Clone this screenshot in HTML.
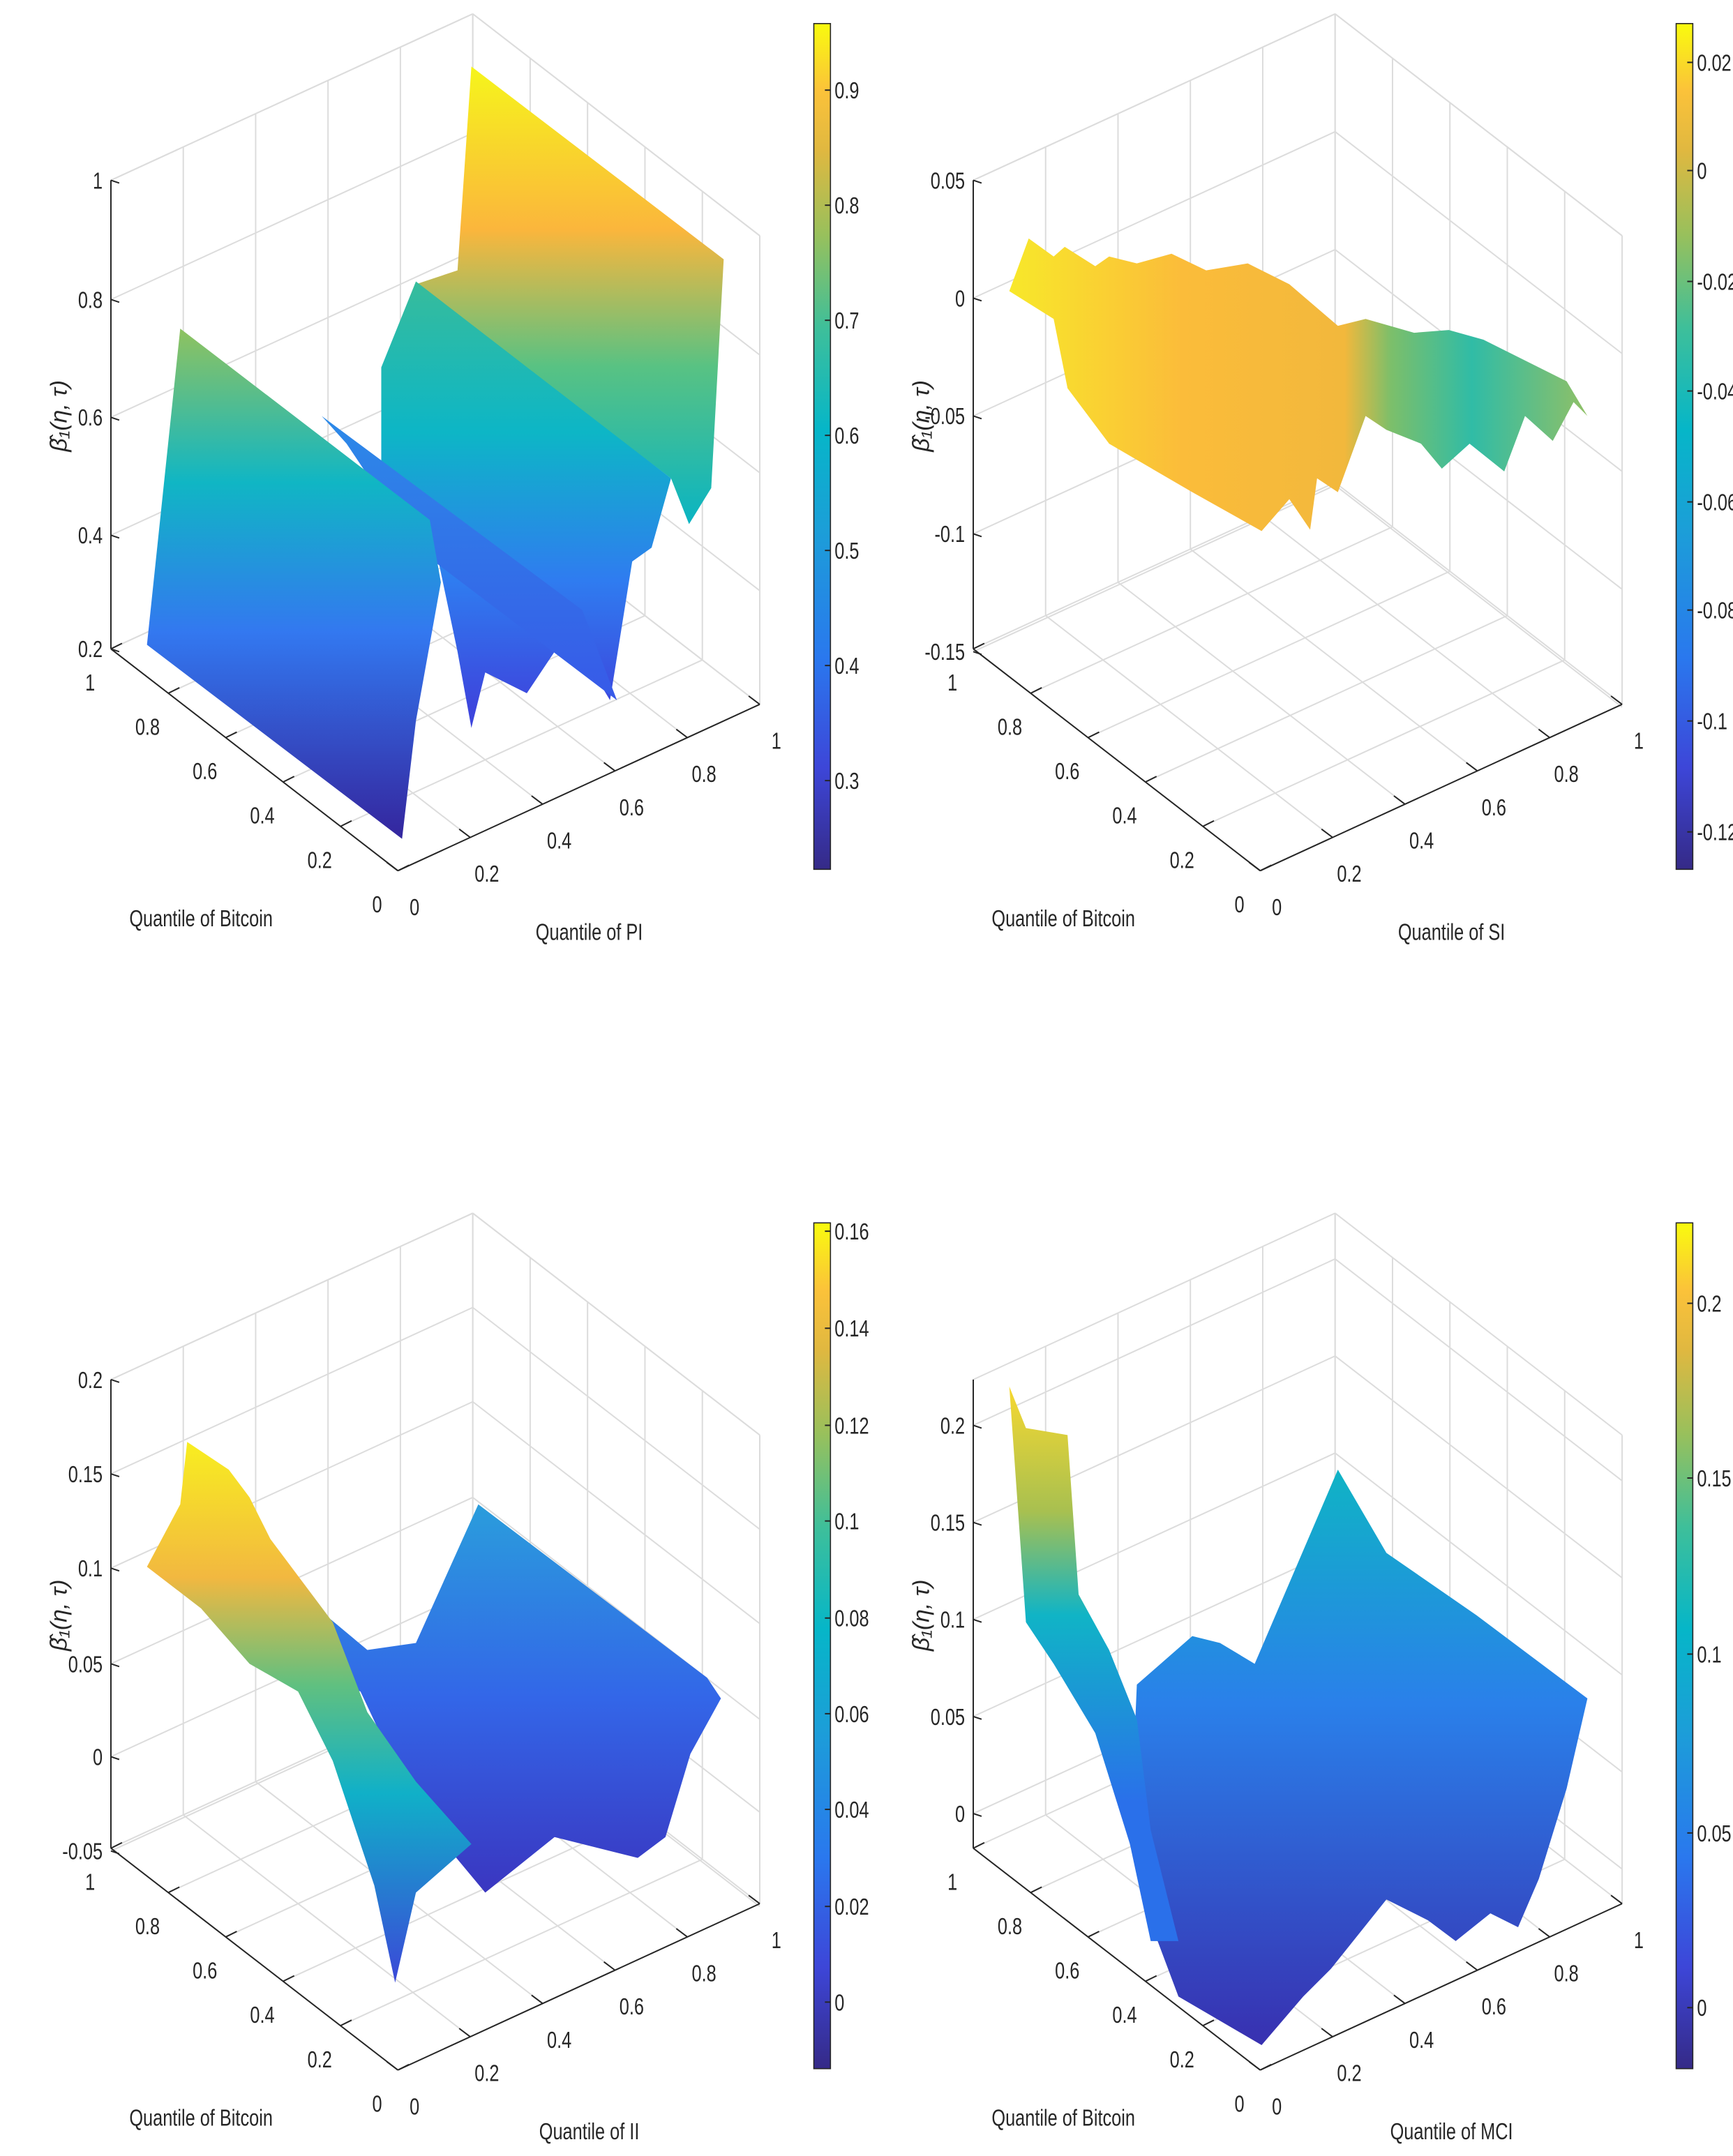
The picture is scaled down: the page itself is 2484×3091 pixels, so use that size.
<!DOCTYPE html>
<html><head><meta charset="utf-8"><style>
html,body{margin:0;padding:0;background:#fff;width:2484px;height:3091px;overflow:hidden}
svg{display:block}
text{font-family:"Liberation Sans",sans-serif;font-size:17px;fill:#262626}
</style></head><body>
<svg id="s" width="2484" height="3091" viewBox="0 0 1250 1555" preserveAspectRatio="none" xmlns="http://www.w3.org/2000/svg">
<defs>
<linearGradient id="cb" x1="0" y1="1" x2="0" y2="0">
<stop offset="0" stop-color="#352a87"/><stop offset="0.12" stop-color="#3d46d8"/><stop offset="0.25" stop-color="#2a78ee"/>
<stop offset="0.4" stop-color="#1c9ed8"/><stop offset="0.52" stop-color="#06b6c8"/><stop offset="0.64" stop-color="#3ebf9a"/>
<stop offset="0.75" stop-color="#98c05c"/><stop offset="0.85" stop-color="#e0b840"/><stop offset="0.92" stop-color="#fbc23a"/>
<stop offset="1" stop-color="#f9fb0e"/></linearGradient>
<linearGradient id="g1a" gradientUnits="userSpaceOnUse" x1="0" y1="50" x2="0" y2="380"><stop offset="0" stop-color="#f6f41c"/><stop offset="0.35" stop-color="#fbb63c"/><stop offset="0.65" stop-color="#58c283"/><stop offset="1" stop-color="#08b4c4"/></linearGradient>
<linearGradient id="g1b" gradientUnits="userSpaceOnUse" x1="0" y1="205" x2="0" y2="510"><stop offset="0" stop-color="#36bc9c"/><stop offset="0.35" stop-color="#0db6c6"/><stop offset="0.7" stop-color="#2f7cf0"/><stop offset="1" stop-color="#3d46dd"/></linearGradient>
<linearGradient id="g1c" gradientUnits="userSpaceOnUse" x1="0" y1="300" x2="0" y2="510"><stop offset="0" stop-color="#2c8ae8"/><stop offset="1" stop-color="#3858e8"/></linearGradient>
<linearGradient id="g1d" gradientUnits="userSpaceOnUse" x1="0" y1="240" x2="0" y2="600"><stop offset="0" stop-color="#8cc262"/><stop offset="0.3" stop-color="#10b6c4"/><stop offset="0.6" stop-color="#3378f0"/><stop offset="1" stop-color="#3428a0"/></linearGradient>
<linearGradient id="g2" gradientUnits="userSpaceOnUse" x1="728" y1="0" x2="1145" y2="0"><stop offset="0" stop-color="#f8e82a"/><stop offset="0.3" stop-color="#fbbc3a"/><stop offset="0.58" stop-color="#f2b83c"/><stop offset="0.66" stop-color="#7cbf6a"/><stop offset="0.8" stop-color="#30bca6"/><stop offset="1" stop-color="#90c066"/></linearGradient>
<linearGradient id="g3a" gradientUnits="userSpaceOnUse" x1="0" y1="1085" x2="0" y2="1365"><stop offset="0" stop-color="#2a9ddc"/><stop offset="0.5" stop-color="#3366e8"/><stop offset="1" stop-color="#3a36c0"/></linearGradient>
<linearGradient id="g3b" gradientUnits="userSpaceOnUse" x1="0" y1="1040" x2="0" y2="1430"><stop offset="0" stop-color="#f8ee20"/><stop offset="0.25" stop-color="#f2b840"/><stop offset="0.45" stop-color="#60c080"/><stop offset="0.65" stop-color="#10b0c8"/><stop offset="1" stop-color="#3b48d8"/></linearGradient>
<linearGradient id="g4a" gradientUnits="userSpaceOnUse" x1="0" y1="1065" x2="0" y2="1475"><stop offset="0" stop-color="#10b2c6"/><stop offset="0.4" stop-color="#2a80ea"/><stop offset="1" stop-color="#3830b0"/></linearGradient>
<linearGradient id="g4b" gradientUnits="userSpaceOnUse" x1="0" y1="1000" x2="0" y2="1300"><stop offset="0" stop-color="#f7d830"/><stop offset="0.3" stop-color="#a8c050"/><stop offset="0.55" stop-color="#10b4c6"/><stop offset="1" stop-color="#2a70ea"/></linearGradient>
</defs>
<g id="root"></g>
</svg>
<script>
var NS="http://www.w3.org/2000/svg",root=document.getElementById("root");
function el(t,a,txt){var e=document.createElementNS(NS,t);for(var k in a)e.setAttribute(k,a[k]);if(txt!==undefined)e.textContent=txt;root.appendChild(e);return e;}
function line(x1,y1,x2,y2,c,w){el("line",{x1:x1,y1:y1,x2:x2,y2:y2,stroke:c,"stroke-width":w||1});}
function txt(x,y,s,anchor,extra){var a={x:x,y:y,"text-anchor":anchor||"middle",transform:"translate("+x+","+y+") scale(0.75,1) translate("+(-x)+","+(-y)+")"};if(extra)for(var k in extra)a[k]=extra[k];el("text",a,s);}
function panel(dx,dy,zt,cbl,xlab,polys){
 var L=[80+dx,468+dy],F=[287+dx,628+dy],R=[548+dx,508+dy],B=[L[0]+R[0]-F[0],L[1]+R[1]-F[1]],H=338;
 var g="#dcdcdc";
 for(var i=0;i<=5;i++){var t=i/5;
  var p=[L[0]+(B[0]-L[0])*t,L[1]+(B[1]-L[1])*t];line(p[0],p[1],p[0],p[1]-H,g);
  var q=[B[0]+(R[0]-B[0])*t,B[1]+(R[1]-B[1])*t];line(q[0],q[1],q[0],q[1]-H,g);
  var a=[L[0]+(F[0]-L[0])*t,L[1]+(F[1]-L[1])*t];line(a[0],a[1],a[0]+B[0]-L[0],a[1]+B[1]-L[1],g);
  var b=[F[0]+(R[0]-F[0])*t,F[1]+(R[1]-F[1])*t];line(b[0],b[1],b[0]+L[0]-F[0],b[1]+L[1]-F[1],g);
 }
 for(var j=0;j<zt.length;j++){var h=(L[1]-zt[j][1]);line(L[0],L[1]-h,B[0],B[1]-h,g);line(B[0],B[1]-h,R[0],R[1]-h,g);}
 line(L[0],L[1]-H,B[0],B[1]-H,g);line(B[0],B[1]-H,R[0],R[1]-H,g);
 polys.forEach(function(p){el("polygon",{points:p[0],fill:p[1]});});
 var d="#262626";
 line(L[0],L[1],L[0],L[1]-H,d);line(L[0],L[1],F[0],F[1],d);line(F[0],F[1],R[0],R[1],d);
 zt.forEach(function(z){line(L[0],z[1],L[0]+6,z[1]+2,d);txt(L[0]-6,z[1]+6,z[0],"end",{"font-size":"19"});});
 var lab=["0","0.2","0.4","0.6","0.8","1"];
 for(var i=0;i<=5;i++){var t=i/5;
  var a=[F[0]+(L[0]-F[0])*t,F[1]+(L[1]-F[1])*t];line(a[0],a[1],a[0]+8,a[1]-4,d);
  txt(a[0]-15,a[1]+30,lab[i],"middle",{"font-size":"19"});
  var b=[F[0]+(R[0]-F[0])*t,F[1]+(R[1]-F[1])*t];line(b[0],b[1],b[0]-8,b[1]-6,d);
  txt(b[0]+12,b[1]+32,lab[i],"middle",{"font-size":"19"});
 }
 txt(145+dx,668+dy,"Quantile of Bitcoin","middle",{"font-size":"21"});
 txt(425+dx,678+dy,xlab,"middle",{"font-size":"21"});
 el("text",{x:0,y:0,transform:"translate("+(48+dx)+","+(300+dy)+") rotate(-90)","text-anchor":"middle","font-family":"Liberation Serif","font-style":"italic","font-size":"17"},"β̂₁(η, τ)");
 var cx=587+dx,cy0=17+dy,cy1=627+dy;
 el("rect",{x:cx,y:cy0,width:12,height:cy1-cy0,fill:"url(#cb)",stroke:d,"stroke-width":"0.8"});
 cbl.forEach(function(c){line(cx+12,c[1],cx+8,c[1],d);txt(cx+15,c[1]+6,c[0],"start",{"font-size":"17"});});
}
panel(0,0,[["1",130],["0.8",216],["0.6",301],["0.4",386],["0.2",468]],
 [["0.9",65],["0.8",148],["0.7",231],["0.6",314],["0.5",397],["0.4",480],["0.3",563]],"Quantile of PI",
 [["340,48 522,187 513,352 497,378 484,345 300,205 330,195","url(#g1a)"],
  ["275,265 300,203 484,345 470,395 456,405 440,505 410,455 380,500 350,485 340,525 330,470 310,375 275,350","url(#g1b)"],
  ["232,300 420,440 445,505 300,395 250,320","url(#g1c)"],
  ["106,465 130,237 310,375 318,420 300,520 290,605","url(#g1d)"]]);
panel(622,0,[["0.05",130],["0",215],["-0.05",300],["-0.1",385],["-0.15",470]],
 [["0.02",45],["0",123],["-0.02",203],["-0.04",282],["-0.06",362],["-0.08",440],["-0.1",520],["-0.12",600]],"Quantile of SI",
 [["728,210 742,172 760,185 768,178 790,192 800,185 820,190 845,183 870,195 900,190 930,205 965,235 985,230 1020,240 1045,238 1070,245 1090,255 1110,265 1130,275 1145,300 1135,290 1120,318 1100,300 1085,340 1060,320 1040,338 1025,320 1000,310 985,300 965,355 950,345 945,382 930,360 910,383 860,355 800,320 770,280 760,230","url(#g2)"]]);
panel(0,865,[["0.2",995],["0.15",1063],["0.1",1131],["0.05",1200],["0",1267],["-0.05",1335]],
 [["0.16",888],["0.14",958],["0.12",1028],["0.1",1097],["0.08",1167],["0.06",1236],["0.04",1305],["0.02",1375],["0",1444]],"Quantile of II",
 [["170,1180 235,1165 265,1190 300,1185 345,1085 510,1210 520,1225 498,1265 480,1325 460,1340 420,1330 400,1325 375,1345 350,1365 300,1305 260,1220","url(#g3a)"],
  ["106,1130 130,1085 135,1040 165,1060 180,1080 195,1110 240,1170 265,1235 300,1285 340,1330 300,1365 285,1430 270,1360 240,1270 215,1220 180,1200 145,1160","url(#g3b)"]]);
panel(622,865,[["0.2",1028],["0.15",1098],["0.1",1168],["0.05",1238],["0",1308]],
 [["0.2",940],["0.15",1066],["0.1",1193],["0.05",1322],["0",1448]],"Quantile of MCI",
 [["820,1215 860,1180 880,1185 905,1200 965,1060 1000,1120 1065,1165 1145,1225 1130,1290 1110,1355 1095,1390 1075,1380 1050,1400 1030,1385 1000,1370 960,1420 940,1440 910,1475 850,1440 835,1400 815,1330","url(#g4a)"],
  ["728,1000 740,1030 770,1035 778,1150 800,1190 820,1240 830,1320 850,1400 830,1400 815,1330 790,1250 760,1200 740,1170","url(#g4b)"]]);
</script>
</body></html>
